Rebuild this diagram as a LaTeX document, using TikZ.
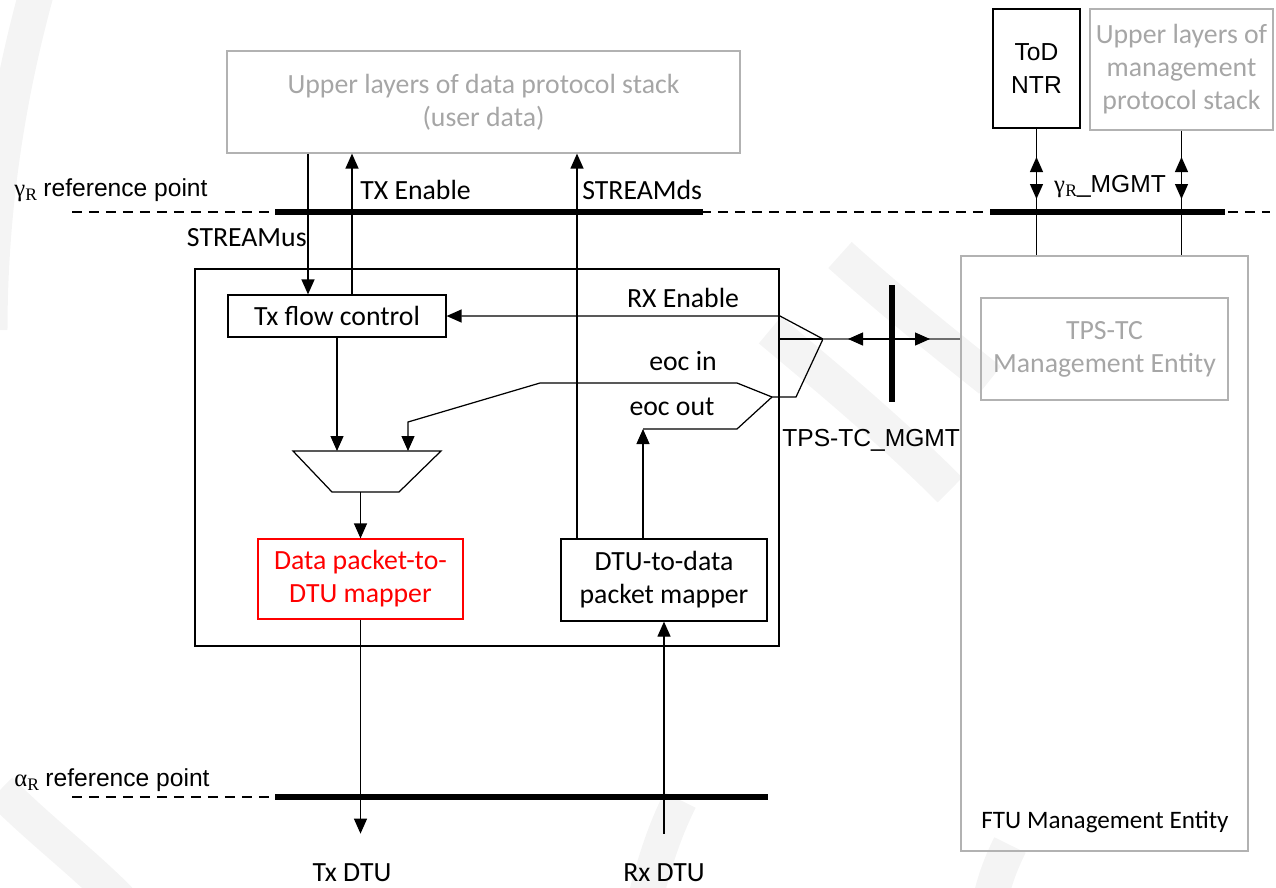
\documentclass[tikz,border=0pt]{standalone}
\usepackage{fontspec}
\setmainfont{Carlito}
\newfontfamily\arialf{Liberation Sans}
\newfontfamily\timesf{Liberation Serif}
\usetikzlibrary{arrows.meta}
\definecolor{lgray}{RGB}{178,178,178}
\definecolor{tgray}{RGB}{166,166,166}
\definecolor{mgray}{RGB}{110,110,110}
\definecolor{wm}{RGB}{244,244,244}
\newcommand\refsym[1]{{\timesf\fontsize{14}{17}\selectfont #1\kern0.01em\raisebox{-0.35ex}{\fontsize{10}{10}\selectfont R}}}
\begin{document}
\begin{tikzpicture}[x=0.02cm,y=-0.02cm,
  font=\fontsize{15.8}{18.8}\selectfont,
  box/.style={draw, line width=0.7pt, inner sep=0pt, align=center},
  graybox/.style={box, draw=lgray, text=tgray},
  wire/.style={line width=0.7pt},
  tip/.tip={Triangle[length=0.3cm,width=0.26cm]},
  arr/.style={wire, -tip},
  darr/.style={wire, tip-tip},
  refline/.style={line width=0.6pt, dash pattern=on 0.2cm off 0.14cm},
  bus/.style={line width=3pt},
  lbl/.style={inner sep=0pt},
  sans/.style={font=\arialf\fontsize{14}{19}\selectfont}]

\useasboundingbox (0,0) rectangle (1276,887);

% faint background emblem
\begin{scope}[wm, line width=0.7cm, line cap=butt]
  \draw (40,-20) .. controls (0,120) and (-10,240) .. (-10,330);
  \draw (0,790) .. controls (40,830) and (80,860) .. (120,900);
  \draw (840,255) .. controls (890,300) and (940,340) .. (990,380);
  \draw (770,330) .. controls (830,380) and (890,430) .. (950,490);
  \draw (645,900) .. controls (655,860) and (665,830) .. (680,800);
  \draw (990,900) .. controls (995,880) and (1000,865) .. (1010,845);
\end{scope}

% upper layers
\node[graybox, minimum width=10.26cm, minimum height=2.04cm] (updata) at (483.5,102)
  {Upper layers of data protocol stack\\(user data)};
\node[box, sans, minimum width=1.74cm, minimum height=2.38cm] (tod) at (1036.5,68.5)
  {ToD\\NTR};
\node[graybox, minimum width=3.66cm, minimum height=2.42cm] (upmgmt) at (1181.5,69.5)
  {Upper layers of\\management\\protocol stack};

% reference points
\draw[refline] (72,212) -- (1270,212);
\draw[bus] (275,212) -- (703,212);
\draw[bus] (990,212) -- (1225,212);
\draw[refline] (72,797) -- (275,797);
\draw[bus] (275,797) -- (768,797);
\node[lbl, anchor=west] (gref) at (14,190) {\refsym{γ} {\arialf\fontsize{14}{17}\selectfont reference point}};
\node[lbl, anchor=west] (aref) at (14,780) {\refsym{α} {\arialf\fontsize{14}{17}\selectfont reference point}};

% TPS-TC block
\node[box, minimum width=11.68cm, minimum height=7.54cm] (main) at (487,457.5) {};
\node[box, minimum width=4.36cm, minimum height=0.84cm] (txfc) at (337,316) {Tx flow control};
\node[box, draw=red, text=red, minimum width=4.1cm, minimum height=1.6cm] (dmap) at (360.5,579)
  {Data packet-to-\\DTU mapper};
\node[box, minimum width=4.12cm, minimum height=1.64cm] (umap) at (664,580)
  {DTU-to-data\\packet mapper};

% multiplexer
\coordinate (muxN) at (367,451);
\coordinate (muxS) at (365,492);
\draw[wire] (293,451) -- (441,451) -- (399,492) -- (332,492) -- cycle;

% management entities
\node[box, draw=lgray, minimum width=5.74cm, minimum height=11.9cm] (ftu) at (1104.5,553.5) {};
\node[lbl, font=\fontsize{14.3}{17}\selectfont] (ftulbl) at (1105,822) {FTU Management Entity};
\node[graybox, minimum width=4.94cm, minimum height=2.04cm] (tpsme) at (1104.5,349)
  {TPS-TC\\Management Entity};

% named points of the connectors
\coordinate (xus) at (308,0);
\coordinate (xte) at (352,0);
\coordinate (xds) at (577,0);
\coordinate (xeo) at (643,0);
\coordinate (apex) at (823,339);
\coordinate (join) at (772,397);
\coordinate (einA) at (737,383);
\coordinate (einB) at (540,383);
\coordinate (einC) at (408,422);
\coordinate (eoutA) at (737,429);
\coordinate (eoutB) at (643,429);
\coordinate (rxin) at (780,316);
\coordinate (splitlow) at (796,397);

% data path signals
\draw[arr] (xus |- updata.south) -- (xus |- txfc.north);
\draw[arr] (xte |- txfc.north) -- (xte |- updata.south);
\draw[arr] (xds |- umap.north) -- (xds |- updata.south);
\draw[arr] (txfc.south) -- (txfc.south |- muxN);
\draw[arr] (dmap.north |- muxS) -- (dmap.north);
\node[lbl] (txdtu) at (352,873) {Tx DTU};
\node[lbl] (rxdtu) at (664,873) {Rx DTU};
\draw[arr] (dmap.south) -- ([yshift=0.6cm]dmap.south |- txdtu.north);
\draw[arr] ([yshift=0.6cm]rxdtu.north) -- (umap.south);

% management signals inside the block
\draw[arr] (apex) -- (rxin) -- (txfc.east);
\draw[arr] (join) -- (einA) -- (einB) -- (einC) -- (einC |- muxN);
\draw[arr] (xeo |- umap.north) -- (eoutB);
\draw[wire] (eoutB) -- (eoutA) -- (join) -- (splitlow) -- (apex);
\draw[wire] (main.east |- apex) -- (apex);
\draw[wire, mgray] (apex) -- (ftu.west |- apex);
\draw[darr] (848,339) -- (930,339);
\draw[bus] (892,285) -- (892,402);

% management reference point
\draw[wire] (tod.south) -- (tod.south |- ftu.north);
\draw[wire] (upmgmt.south) -- (upmgmt.south |- ftu.north);
\draw[darr] (tod.south |- 0,157) -- (tod.south |- 0,199);
\draw[darr] (upmgmt.south |- 0,157) -- (upmgmt.south |- 0,199);

% labels
\node[lbl, anchor=east] (lus) at (307,238) {STREAMus};
\node[lbl, anchor=west] (lte) at (360,190) {TX Enable};
\node[lbl, anchor=west] (lds) at (582,190) {STREAMds};
\node[lbl] (lrx) at (683,298) {RX Enable};
\node[lbl] (lein) at (683,361) {eoc in};
\node[lbl] (leout) at (672,407) {eoc out};
\node[lbl, anchor=west] (lmgmt) at (782,440) {\arialf\fontsize{14}{17}\selectfont TPS-TC\_MGMT};
\node[lbl] (lgm) at (1110,187) {\refsym{γ}{\arialf\fontsize{14}{17}\selectfont\_MGMT}};
\end{tikzpicture}
\end{document}
